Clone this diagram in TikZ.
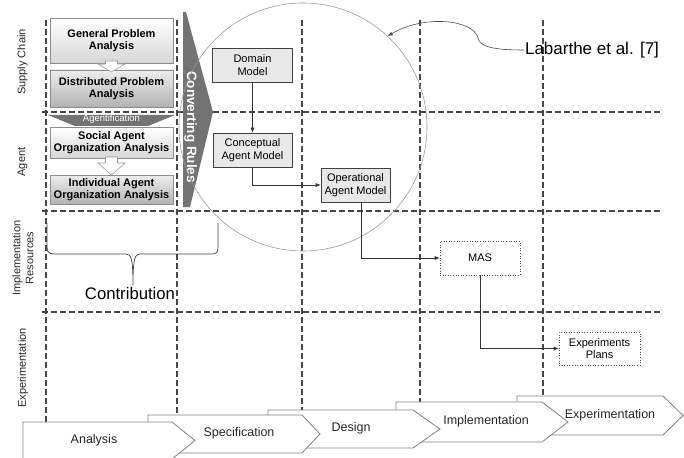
\documentclass[tikz,border=0pt]{standalone}
\usepackage{fontspec}
\setmainfont{Liberation Sans}
\usepackage{xcolor}
\usepackage{tikz}
\usetikzlibrary{arrows.meta,positioning,shapes.geometric}
\colorlet{mthline}{black!72}
\colorlet{mthdark}{black!55}
\colorlet{mthedge}{black!45}
\colorlet{mthfill}{black!9}
\tikzset{
  mthgrid/.style={mthline,line width=1.15pt,dash pattern=on 6pt off 3pt},
  mthstage/.style={
    align=center,
    inner sep=2pt,
    font=\fontsize{11}{12.5}\selectfont
  },
  mthanalysis/.style={mthstage,draw=mthedge,font=\fontsize{11}{12.5}\selectfont\bfseries,
                      top color=white,bottom color=black!16,
                      minimum width=123pt},
  mthanalysisdark/.style={mthanalysis,top color=black!7,bottom color=black!30},
  mthmodel/.style={mthstage,draw=black!75,fill=mthfill,line width=0.6pt},
  mthimpl/.style={mthstage,draw=black!70,dotted,fill=white,line width=0.6pt},
  mthflow/.style={-{Latex[length=5pt,width=4pt]},black!80,line width=0.6pt},
  mthhollow/.style={draw=black!40,fill=white,line width=0.6pt},
  mthrow/.style={rotate=90,align=center,text=black!85,inner sep=1pt,
                 font=\fontsize{11}{13}\selectfont},
  mthphase/.style={draw=black!50,fill=white,line width=0.8pt},
  mthphasetext/.style={font=\fontsize{12.5}{14}\selectfont,text=black!85,inner sep=1pt},
  mthbanner/.style={text=white,inner sep=0pt}
}
\begin{document}
\begin{tikzpicture}[x=1pt,y=-1pt]
  \useasboundingbox (0,0) rectangle (684,457);

  \foreach \y in {112,211,312}{
    \draw[mthgrid] (42,\y) -- (663,\y);
  }
  \foreach \x/\e in {46/424,177/418,302/413,420/405,543/399}{
    \draw[mthgrid] (\x,20) -- (\x,\e);
  }

  \foreach \lx/\ty/\by/\rx/\ax/\txt/\cx in {517/396/435/663/683/Experimentation/610,
      396/402/442/542/568/Implementation/486,268/410/448/413/440/Design/351,
      148/415/453/302/320/Specification/239,23/422/459/172/195/Analysis/94}{
    \draw[mthphase] (\lx,\ty) -- (\rx,\ty) -- (\ax,{(\ty+\by)/2}) -- (\rx,\by) -- (\lx,\by) -- cycle;
    \node[mthphasetext] (phase-\txt) at (\cx,{(\ty+\by)/2-0.5}) {\txt};
  }

  \node[mthrow] (row-sc) at (22.5,62) {Supply Chain};
  \node[mthrow] (row-ag) at (22.5,162) {Agent};
  \node[mthrow] (row-ir) at (23,258) {Implementation\\Resources};
  \node[mthrow] (row-ex) at (23,368) {Experimentation};

  \fill[mthdark] (183,12) -- (186,12) -- (213,112) -- (190,207) -- (183,207) -- cycle;
  \node[mthbanner,rotate=-90,font=\fontsize{13.5}{15}\selectfont\bfseries] (convrules) at (190.5,127) {Converting Rules};

  \fill[mthdark] (48,115) -- (175,115) -- (111.5,141) -- cycle;
  \node[mthbanner,font=\fontsize{9.5}{11}\selectfont] (agentif) at (111.5,119.5) {Agentification};

  \node[circle,draw=black!40,line width=0.6pt,minimum size=248pt,inner sep=0pt] (ring) at (303,127) {};

  \node[mthanalysis,minimum height=45pt] (gpa) at (111.5,40.5) {General Problem\\Analysis};
  \node[mthanalysisdark,minimum height=37pt] (dpa) at (111.5,88.5) {Distributed Problem\\Analysis};
  \node[mthanalysis,minimum height=31pt] (saoa) at (111.5,142.5) {Social Agent\\Organization Analysis};
  \node[mthanalysisdark,minimum height=29pt] (iaoa) at (111.5,189.5) {Individual Agent\\Organization Analysis};

  \draw[mthhollow] (105.5,61) -- (117.5,61) -- (117.5,64) -- (125,64) -- (111.5,72) -- (98,64) -- (105.5,64) -- cycle;
  \draw[mthhollow] (105.5,157) -- (117.5,157) -- (117.5,163) -- (125,163) -- (111.5,175) -- (98,163) -- (105.5,163) -- cycle;

  \node[mthmodel,minimum width=80pt,minimum height=34pt] (dm) at (252.5,65) {Domain\\Model};
  \node[mthmodel,minimum width=79pt,minimum height=34pt] (cam) at (252.5,150) {Conceptual\\Agent Model};
  \node[mthmodel,minimum width=69pt,minimum height=34pt] (oam) at (355.5,185) {Operational\\Agent Model};
  \node[mthimpl,minimum width=80pt,minimum height=34pt] (mas) at (480,258) {MAS};
  \node[mthimpl,minimum width=81pt,minimum height=33pt] (ep) at (599.5,348.5) {Experiments\\Plans};

  \draw[mthflow] (dm) -- (cam);
  \draw[mthflow] (cam.south) |- (oam.west);
  \draw[mthflow] ([xshift=6pt]oam.south) |- (mas.west);
  \draw[mthflow] (mas.south) |- (ep.west);

  \node[inner sep=1pt,font=\fontsize{17}{19}\selectfont] (labarthe) at (592,50) {Labarthe et al. [7]};
  \draw[mthflow,black!70] (labarthe.west) .. controls (494,50) and (480,47) .. (478,38)
    .. controls (474,20) and (425,14) .. (ring.47);

  \draw[black!75,line width=0.7pt] (47,223) -- (47,247) .. controls (47,252) and (49,254) .. (55,254)
    -- (126,254) .. controls (131,254) and (133,258) .. (133,285)
    .. controls (133,258) and (135,254) .. (140,254) -- (211,254)
    .. controls (217,254) and (218,252) .. (218,247) -- (218,223);
  \node[inner sep=1pt,font=\fontsize{16.7}{19}\selectfont] (contribution) at (130,294) {Contribution};
\end{tikzpicture}
\end{document}
